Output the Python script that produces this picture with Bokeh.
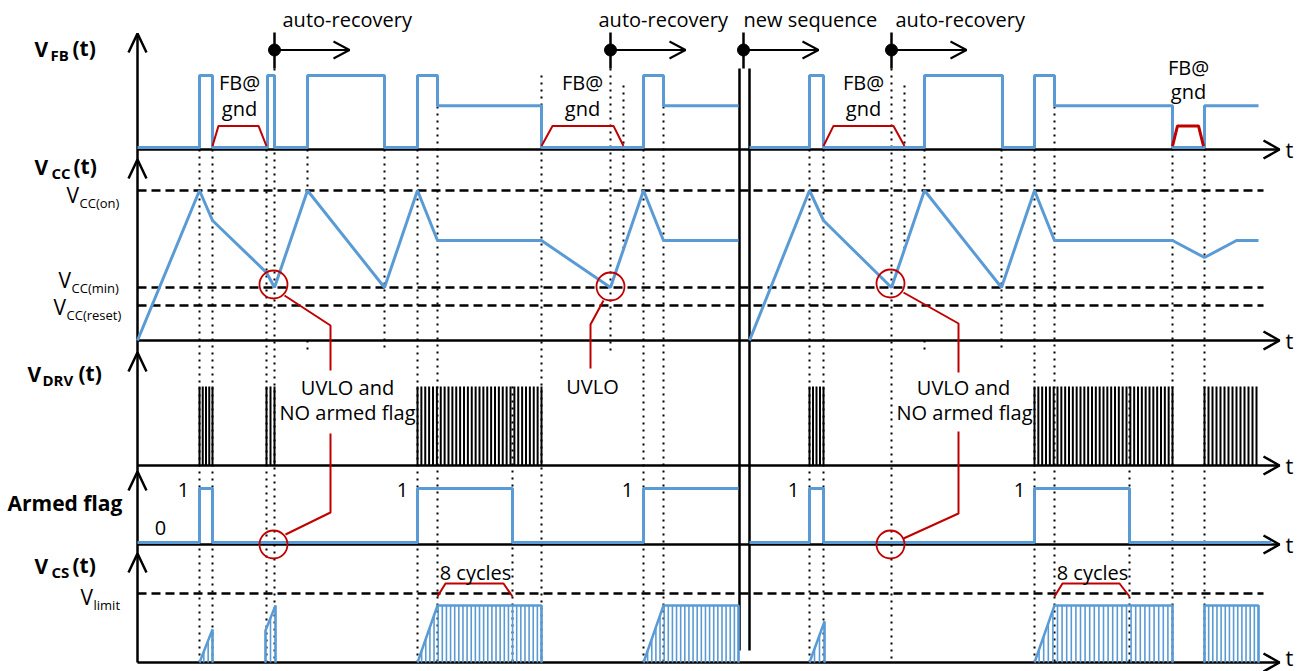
import numpy as np
from bokeh.plotting import figure
from bokeh.models import Range1d, Label
from bokeh.embed import file_html
from bokeh.resources import INLINE

# ======================= DATA =======================
# time in diagram units, origin at the vertical axis
# V_FB(t): 0 = low, 1 = high, 0.58 = regulation level
VFB_A_T = [0, 62, 62, 75, 75, 130, 130, 137, 137, 170, 170, 247, 247, 280, 280, 300, 300, 404, 404, 506, 506, 526, 526, 601]
VFB_A_V = [0, 0, 1, 1, 0, 0, 1, 1, 0, 0, 1, 1, 0, 0, 1, 1, .58, .58, 0, 0, 1, 1, .58, .58]
VFB_B_T = [612, 672, 672, 686, 686, 787, 787, 865, 865, 897, 897, 917, 917, 1035, 1035, 1067, 1067, 1121]
VFB_B_V = [0, 0, 1, 1, 0, 0, 1, 1, 0, 0, 1, 1, .58, .58, 0, 0, .58, .58]
# FB@gnd windows (trapezoids)
FBGND_T = [[75, 81, 121, 129], [404, 415, 476, 486], [686, 696, 756, 767], [1035, 1040, 1061, 1066]]
FBGND_V = [0.02, 0.3, 0.3, 0.02]

# V_CC(t): normalised to V_CC(on) = 1
VCC_ON, VCC_MIN, VCC_RESET = 1.0, 0.353, 0.233
VCC_A_T = [0, 62, 75, 129, 137, 170, 247, 280, 300, 404, 473, 506, 526, 601]
VCC_A_V = [0, 1, .8, .453, .353, 1, .353, 1, .667, .667, .353, 1, .667, .667]
VCC_B_T = [612, 672, 686, 754, 787, 864, 897, 917, 1035, 1067, 1099, 1121]
VCC_B_V = [0, 1, .8, .353, 1, .353, 1, .667, .667, .553, .667, .667]

# V_DRV(t): switching bursts (start, end, number of pulses)
DRV_BURSTS = [(62, 75, 5), (129, 137, 3), (280, 404, 33), (672, 686, 5), (897, 1035, 37), (1067, 1119, 14)]

# Armed flag (0 / 1)
ARM_A_T = [0, 62, 62, 75, 75, 280, 280, 375, 375, 506, 506, 601]
ARM_A_V = [0, 0, 1, 1, 0, 0, 1, 1, 0, 0, 1, 1]
ARM_B_T = [612, 672, 672, 686, 686, 897, 897, 992, 992, 1134]
ARM_B_V = [0, 0, 1, 1, 0, 0, 1, 1, 0, 0]

# V_CS(t): bursts (start, end of ramp, end, start level, top level, cycles); normalised to top = 1
VLIMIT = 1.21
CS_BURSTS = [(62, 75, 75, 0, .58, 4), (128, 138, 138, .56, 1, 3), (280, 300, 404, 0, 1, 31),
             (506, 526, 601, 0, 1, 24), (672, 687, 687, 0, .72, 4), (897, 917, 1035, 0, 1, 31),
             (1067, 1067, 1121, 1, 1, 14)]

# event guides (dotted)
GUIDE_T = [62, 75, 129, 137, 170, 170, 247, 280, 300, 375, 404, 473, 486, 506, 526,
           672, 686, 754, 767, 787, 787, 864, 897, 917, 992, 1035, 1067]

# auto-recovery / new-sequence markers
MARK_T = [137, 473, 606, 754]
MARK_TXT = ["auto-recovery", "auto-recovery", "new sequence", "auto-recovery"]
MARK_LEN = 75

# ======================= LAYOUT / STYLE =======================
W, H = 1305, 671
AX_X = 137            # screen x of time origin
T_END = 1142          # time axis arrow tip
BLUE, RED, BLACK = "#5B9BD5", "#C00000", "#000000"
FONT = "Open Sans"
TEXT_DY = 0.4         # baseline correction, fraction of font size

FB_AX, FB_BASE, FB_H = 149, 147, 72
CC_AX, CC_BASE, CC_H = 340, 340, 150
DRV_AX, DRV_H = 465, 79
ARM_AX, ARM_BASE, ARM_H = 544, 542, 54
CS_AX, CS_H = 662, 57
UP_TIPS = [33, 159, 352, 471, 553]
GUIDE_TOP = [149, 149, 149, 68, 149, 340, 149, 149, 106, 386, 75, 68, 85, 149, 106,
             149, 149, 68, 85, 149, 340, 149, 149, 106, 386, 106, 106]
GUIDE_BOT = [662, 662, 662, 662, 190, 352, 352, 662, 662, 662, 662, 352, 249, 662, 662,
             662, 662, 662, 249, 190, 352, 352, 662, 662, 662, 662, 662]


def ym(v, base, h):
    return [base - x * h for x in v]


p = figure(width=W, height=H, x_range=Range1d(-AX_X, W - AX_X), y_range=Range1d(H, 0),
           output_backend="svg", toolbar_location=None, min_border=0,
           x_axis_type=None, y_axis_type=None)
p.outline_line_color = None
p.grid.visible = False
p.background_fill_color = "white"

# dotted guides
p.multi_line([[t, t] for t in GUIDE_T], [[a, b] for a, b in zip(GUIDE_TOP, GUIDE_BOT)],
             line_color=BLACK, line_width=2, line_dash="2 5")

# threshold dashed lines
for v, base, h in [(VCC_ON, CC_BASE, CC_H), (VCC_MIN, CC_BASE, CC_H), (VCC_RESET, CC_BASE, CC_H),
                   (VLIMIT, CS_AX, CS_H)]:
    y = base - v * h
    p.line([0, 1126], [y, y], line_color=BLACK, line_width=2.5, line_dash="9 5")

# axes
p.line([0, 0], [UP_TIPS[0], CS_AX], line_color=BLACK, line_width=2.5)
for tip in UP_TIPS:
    p.line([-9, 0, 9], [tip + 19, tip, tip + 19], line_color=BLACK, line_width=2.5)
for y in [FB_AX, CC_AX, DRV_AX, ARM_AX, CS_AX]:
    p.line([0, T_END], [y, y], line_color=BLACK, line_width=2.5)
    p.line([T_END - 16, T_END, T_END - 16], [y - 9, y, y + 9], line_color=BLACK, line_width=2.5)

# double separator
for t in [602, 612]:
    p.line([t, t], [68, 650], line_color=BLACK, line_width=2.5)

# markers on top
for t in MARK_T:
    p.line([t, t], [32, 68], line_color=BLACK, line_width=2.5)
    p.line([t, t + MARK_LEN], [49.5, 49.5], line_color=BLACK, line_width=2)
    p.line([t + MARK_LEN - 16, t + MARK_LEN, t + MARK_LEN - 16], [41, 49.5, 58], line_color=BLACK, line_width=2)
p.scatter(MARK_T, [49.5] * len(MARK_T), size=12, color=BLACK)

# V_FB
p.line(VFB_A_T, ym(VFB_A_V, FB_BASE, FB_H), line_color=BLUE, line_width=3)
p.line(VFB_B_T, ym(VFB_B_V, FB_BASE, FB_H), line_color=BLUE, line_width=3)
for i, ts in enumerate(FBGND_T):
    p.line(ts, ym(FBGND_V, FB_BASE, FB_H), line_color=RED, line_width=2 if i < 3 else 3)

# V_CC
p.line(VCC_A_T, ym(VCC_A_V, CC_BASE, CC_H), line_color=BLUE, line_width=3)
p.line(VCC_B_T, ym(VCC_B_V, CC_BASE, CC_H), line_color=BLUE, line_width=3)

# V_DRV
xs, ys = [], []
for a, b, n in DRV_BURSTS:
    for t in np.linspace(a, b, n):
        xs.append([t, t]); ys.append([DRV_AX, DRV_AX - DRV_H])
p.multi_line(xs, ys, line_color=BLACK, line_width=2)

# Armed flag
p.line(ARM_A_T, ym(ARM_A_V, ARM_BASE, ARM_H), line_color=BLUE, line_width=3)
p.line(ARM_B_T, ym(ARM_B_V, ARM_BASE, ARM_H), line_color=BLUE, line_width=3)

# V_CS
xs, ys = [], []
for a, r, b, v0, v1, n in CS_BURSTS:
    env_t = [a, a, r, b, b]
    env_v = [0, v0, v1, v1, 0]
    p.line(env_t, ym(env_v, CS_AX, CS_H), line_color=BLUE, line_width=2.5)
    for t in np.linspace(a, b, n):
        if r > a:
            v = v0 + (v1 - v0) * min(1.0, (t - a) / (r - a))
        else:
            v = v1
        xs.append([t, t]); ys.append([CS_AX, CS_AX - v * CS_H])
p.multi_line(xs, ys, line_color=BLUE, line_width=1.6)

# red callouts
for t, y in [(136, 284), (473, 286), (753, 283), (136, 544), (753, 544)]:
    p.circle([t], [y], radius=14, fill_color=None, line_color=RED, line_width=1.8)
for lx, ly in [([147, 193, 193], [295, 325, 370]), ([193, 193, 148], [433, 512, 534]),
               ([466, 453, 453], [300, 324, 368]),
               ([766, 821, 821], [292, 323, 372]), ([821, 821, 766], [431, 513, 538])]:
    p.line(lx, ly, line_color=RED, line_width=2)
for lx in [[300, 308, 366, 375], [917, 925, 982, 992]]:
    p.line(lx, [596, 583, 583, 596], line_color=RED, line_width=2)


# texts
def lab(sx, y, text, size=20, bold=False, align="left"):
    p.add_layout(Label(x=sx - AX_X, y=y - TEXT_DY * size, text=text, text_font=FONT,
                       text_font_size=f"{size}px",
                       text_font_style="bold" if bold else "normal", text_align=align,
                       text_baseline="alphabetic", text_color=BLACK))


for sx, txt in zip([282, 598, 743, 895], MARK_TXT):
    lab(sx, 27, txt)
for cx, y1, y2 in [(239, 90, 116), (582, 90, 116), (863, 90, 116), (1188, 75, 99)]:
    lab(cx, y1, "FB@", align="center")
    lab(cx, y2, "gnd", align="center")
lab(347, 395, "UVLO and", align="center")
lab(347, 420, "NO armed flag", align="center")
lab(592, 394, "UVLO", align="center")
lab(963, 395, "UVLO and", align="center")
lab(964, 420, "NO armed flag", align="center")
lab(475, 580, "8 cycles", align="center")
lab(1092, 580, "8 cycles", align="center")
for sx in [183, 402, 627, 793, 1019]:
    lab(sx, 497, "1", align="center")
lab(160, 535, "0", align="center")
for y in [FB_AX, CC_AX, DRV_AX, ARM_AX]:
    lab(1285, y + 8, "t", size=22)
lab(1285, 665, "t", size=22)

# left signal names
for vx, sx_, tx, yb, sub in [(34, 50, 72, 57, "FB"), (34, 51, 73, 175, "CC"), (27, 42, 78, 382, "DRV"),
                             (34, 51, 72, 574, "CS")]:
    lab(vx, yb, "V", size=21, bold=True)
    lab(sx_, yb + 3, sub, size=15, bold=True)
    lab(tx, yb - 1, "(t)", size=21, bold=True)
lab(7, 511, "Armed flag", size=21, bold=True)

# level names
for vx, sx_, yb, sub in [(66, 79, 203, "CC(on)"), (58, 71, 288, "CC(min)"), (53, 66, 315, "CC(reset)"),
                         (80, 93, 605, "limit")]:
    lab(vx, yb, "V", size=21)
    lab(sx_, yb + 5, sub, size=13)

open("out.html", "w").write(file_html(p, INLINE))
